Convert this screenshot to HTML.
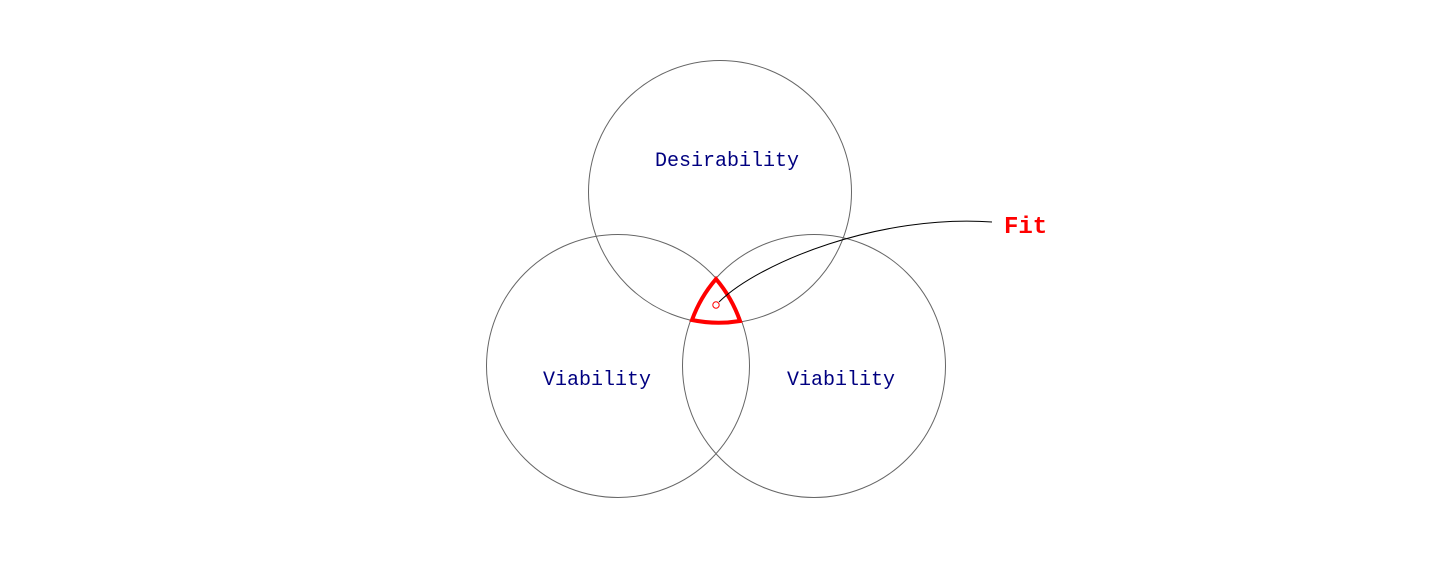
<!DOCTYPE html>
<html><head><style>body{margin:0;background:#fff}</style></head><body>
<svg width="1432" height="560" xmlns="http://www.w3.org/2000/svg">
<g fill="none" stroke="#666" stroke-width="1">
<circle cx="720" cy="192" r="131.5"/>
<circle cx="618" cy="366" r="131.5"/>
<circle cx="814" cy="366" r="131.5"/>
</g>
<path d="M716,279 A131.5,131.5 0 0 1 740,321 A131.5,131.5 0 0 1 692,320 A131.5,131.5 0 0 1 716,279 Z" fill="none" stroke="#f00" stroke-width="4" stroke-linejoin="miter"/>
<path d="M719,302 C760,262 880,214 992,222" fill="none" stroke="#000" stroke-width="1"/>
<circle cx="716" cy="305" r="3.2" fill="#fff" stroke="#f00" stroke-width="1"/>
<g font-family="Liberation Mono, monospace" fill="#000080" font-size="20" text-anchor="middle">
<text x="727" y="166">Desirability</text>
<text x="597" y="385">Viability</text>
<text x="841" y="385">Viability</text>
</g>
<text x="1004" y="233" font-family="Liberation Mono, monospace" font-weight="bold" font-size="24" fill="#f00">Fit</text>
</svg>
</body></html>
